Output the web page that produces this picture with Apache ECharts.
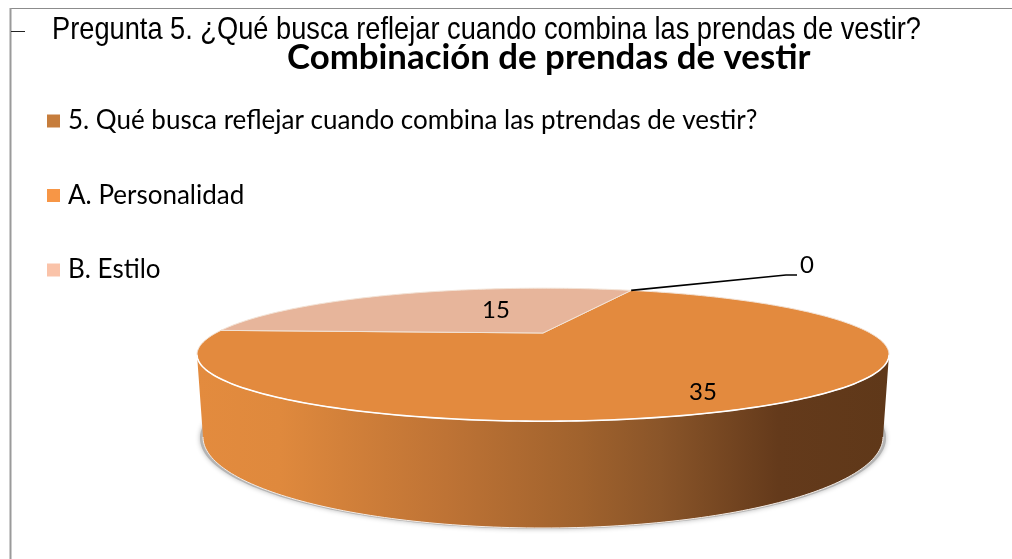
<!DOCTYPE html>
<html><head><meta charset="utf-8">
<style>html,body{margin:0;padding:0;background:#fff}#c{width:1012px;height:559px}</style>
<script src="https://cdn.jsdelivr.net/npm/echarts@6/dist/echarts.min.js"></script>
</head><body><div id="c"></div>
<script>
const categories = ['5. Qué busca reflejar cuando combina las ptrendas de vestir?', 'A. Personalidad', 'B. Estilo'];
const values = [0, 35, 15];
const legendColors = ['#C67D3C', '#F79646', '#FAC3A9'];
const topColors = ['#C67D3C', '#E38A3E', '#E7B59B'];
const mainTitle = 'Combinación de prendas de vestir';
const questionText = 'Pregunta 5. ¿Qué busca reflejar cuando combina las prendas de vestir?';

// layout of the perspective pie
const TOP = {cx: 543, cy: 354.7, rx: 346, ry: 66.5};
const BOT = {cx: 543, cy: 437, rx: 340, ry: 91};
const TILT = 0.326, START = 20.6;
const labelAt = [[807, 265], [703, 392], [496, 310]];

const total = values.reduce((a, b) => a + b, 0);
const proj = (deg, r, E) => {
  const t = deg * Math.PI / 180, x = r * Math.sin(t), y = r * Math.cos(t);
  const w = 1 + TILT * y;
  const nx = x * Math.sqrt(1 - TILT * TILT) / w, ny = (y + TILT) / w;
  return [E.cx + E.rx * nx, E.cy - E.ry * ny];
};
const range = (a, b) => { const o = []; const n = Math.max(2, Math.ceil(Math.abs(b - a))); for (let i = 0; i <= n; i++) o.push(a + (b - a) * i / n); return o; };
const sliceAngles = i => {
  const before = values.slice(0, i).reduce((a, b) => a + b, 0);
  return [START + before / total * 360, START + (before + values[i]) / total * 360];
};
const wallFill = new echarts.graphic.LinearGradient(197, 0, 889, 0, [
  {offset: 0, color: '#E38B3E'}, {offset: 0.12, color: '#DF893D'}, {offset: 0.36, color: '#BE7335'},
  {offset: 0.555, color: '#A0622D'}, {offset: 0.67, color: '#8A5529'}, {offset: 0.84, color: '#643A1B'}, {offset: 1, color: '#5F3819'}
], true);

const renderSlice = i => (params, api) => {
  const [a, b] = sliceAngles(i), kids = [], v = api.value(0);
  if (v > 0) {
    const lo = Math.max(a, 109), hi = Math.min(b, 251);
    if (hi > lo) {
      const ellipse = range(0, 360).map(d => proj(d, 1, {cx: BOT.cx, cy: BOT.cy + 1, rx: BOT.rx + 3, ry: BOT.ry}));
      kids.push({type: 'polygon', shape: {points: ellipse}, style: {fill: '#B4B4B4', shadowBlur: 5, shadowColor: 'rgba(0,0,0,0.28)'}});
      const upper = range(lo, hi).map(d => proj(d, 1, TOP));
      const lower = range(hi, lo).map(d => proj(d, 1, BOT));
      kids.push({type: 'polygon', shape: {points: upper.concat(lower)}, style: {fill: wallFill}});
      kids.push({type: 'polyline', shape: {points: lower}, style: {fill: null, stroke: '#F4ECE6', lineWidth: 1}});
    }
    const rim = range(a, b).map(d => proj(d, 1, TOP));
    kids.push({type: 'polygon', shape: {points: [proj(0, 0, TOP)].concat(rim)},
      style: {fill: topColors[i], stroke: '#F3E3D6', lineWidth: 1, lineJoin: 'round'}});
    if (hi > lo) kids.push({type: 'polyline', shape: {points: range(lo, hi).map(d => proj(d, 1, TOP))},
      style: {fill: null, stroke: '#FFFFFF', lineWidth: 1.6}});
  } else {
    const p = proj(a, 1, TOP);
    kids.push({type: 'polyline', z2: 5, shape: {points: [p, [786, 275], [797, 275]]}, style: {fill: null, stroke: '#000', lineWidth: 1.6}});
  }
  kids.push({type: 'text', z2: 10, style: {text: String(v), x: labelAt[i][0], y: labelAt[i][1], align: 'center', verticalAlign: 'middle',
    font: '24px Lato', fill: '#000'}});
  return {type: 'group', children: kids};
};

const drawOrder = [1, 2, 0];
const chart = echarts.init(document.getElementById('c'), null, {renderer: 'canvas'});
chart.setOption({
  animation: false,
  backgroundColor: '#fff',
  title: {text: mainTitle, left: 287, top: 40, textStyle: {fontFamily: 'Lato', fontWeight: 'bold', fontSize: 34.8, color: '#000'}, padding: 0},
  legend: {
    orient: 'vertical', left: 47, top: 108, itemWidth: 13, itemHeight: 13, itemGap: 48.5, icon: 'rect', padding: 0,
    data: categories, selectedMode: false, textStyle: {fontFamily: 'Lato', fontSize: 26, color: '#000', padding: [0, 0, 0, 3]}
  },
  graphic: [
    {type: 'line', shape: {x1: 10, y1: 8.5, x2: 1012, y2: 8.5}, style: {stroke: '#8C8C8C', lineWidth: 1}, silent: true},
    {type: 'line', shape: {x1: 10.5, y1: 8, x2: 10.5, y2: 559}, style: {stroke: '#9A9A9A', lineWidth: 2}, silent: true},
    {type: 'line', shape: {x1: 11, y1: 31.5, x2: 25, y2: 31.5}, style: {stroke: '#222', lineWidth: 1}, silent: true},
    {type: 'text', x: 52, y: 14.5, scaleX: 0.851, silent: true, style: {text: questionText, font: '32px "Liberation Sans"', fill: '#000'}}
  ],
  series: drawOrder.map((i, k) => ({
    type: 'custom', name: categories[i], coordinateSystem: 'none', silent: true, z: k + 2,
    itemStyle: {color: legendColors[i]},
    data: [[values[i]]], renderItem: renderSlice(i)
  }))
});
</script></body></html>
